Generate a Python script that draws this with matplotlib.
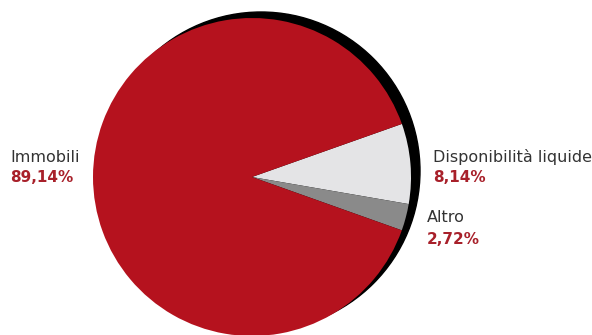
import matplotlib.pyplot as plt
from matplotlib.patches import Circle

labels = ["Disponibilità liquide", "Altro", "Immobili"]
values = [8.14, 2.72, 89.14]
colors = ["#e4e4e6", "#8a8a8a", "#b5121e"]
label_pos = [(433, 157), (427, 218), (10, 157)]

fig = plt.figure(figsize=(5.92, 3.35), dpi=100)
ax = fig.add_axes([0, 0, 1, 1])

cx, cy, r = 252, 158, 159
# black shadow behind the pie
ax.add_patch(Circle((cx + 9, cy + 6), r, color="black", zorder=1))
ax.pie(values, colors=colors, startangle=19.5, counterclock=False,
       center=(cx, cy), radius=r, frame=True,
       wedgeprops=dict(linewidth=0, zorder=2))
ax.set_xlim(0, 592)
ax.set_ylim(0, 335)
ax.set_aspect("equal")
ax.axis("off")

for lab, v, (x, y) in zip(labels, values, label_pos):
    ax.text(x, 335 - y, lab, fontsize=11.5, color="#333333",
            ha="left", va="center", zorder=5)
    ax.text(x, 335 - y - 21, f"{v:.2f}%".replace(".", ","), fontsize=11,
            color="#a8202a", fontweight="bold",
            ha="left", va="center", zorder=5)

fig.savefig("out.png", dpi=100)
